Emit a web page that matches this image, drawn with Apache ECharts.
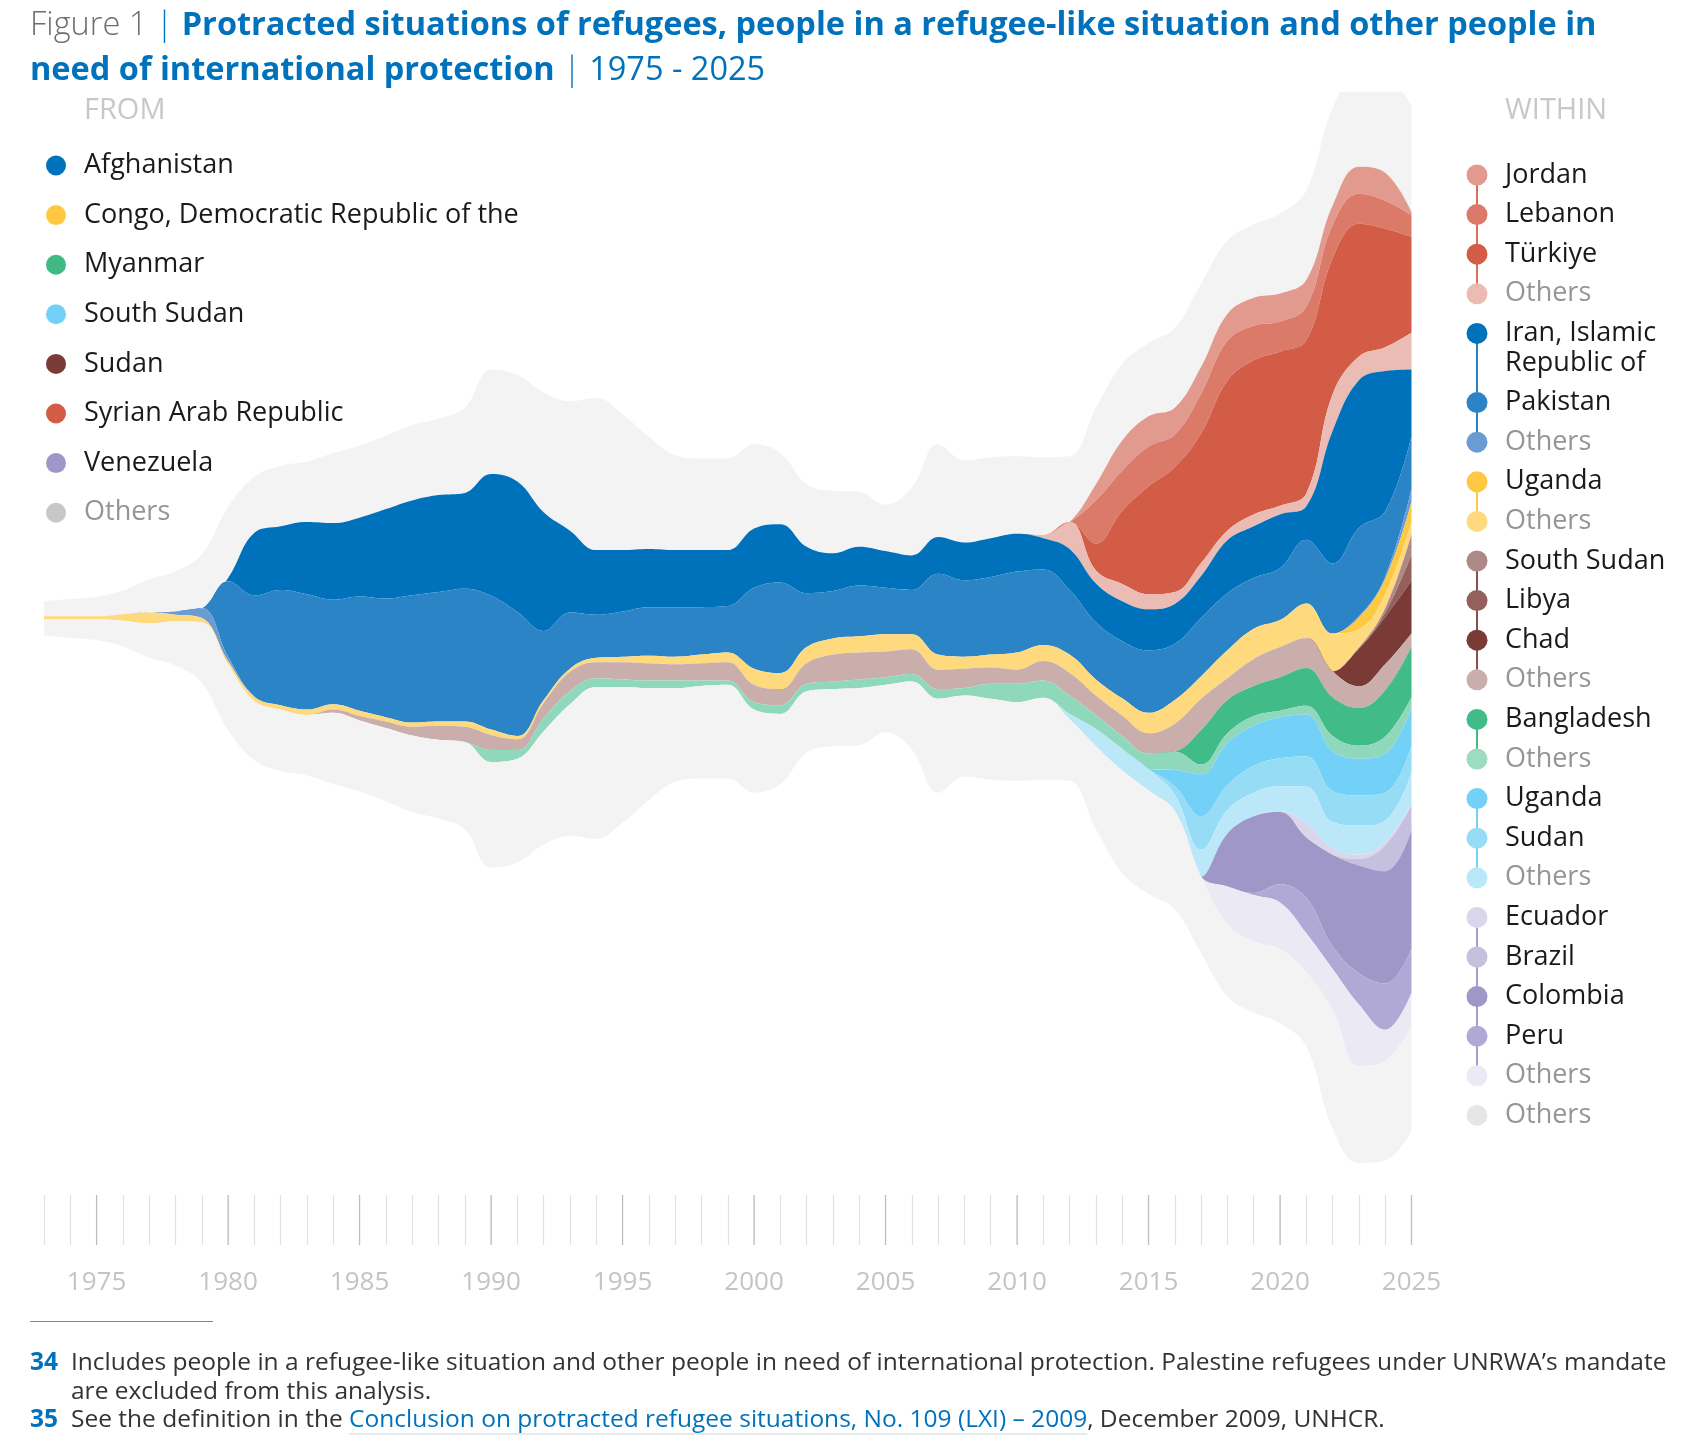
<!DOCTYPE html>
<html>
<head>
<meta charset="UTF-8">
<title>Protracted situations 1975 - 2025</title>
<script src="https://cdn.jsdelivr.net/npm/echarts@6/dist/echarts.min.js"></script>
<style>
  html, body { margin: 0; padding: 0; background: #fff; }
  #main { width: 1696px; height: 1444px; }
</style>
</head>
<body>
<div id="main"></div>
<script>
// years on the axis
var years = [1973, 1974, 1975, 1976, 1977, 1978, 1979, 1980, 1981, 1982,
  1983, 1984, 1985, 1986, 1987, 1988, 1989, 1990, 1991, 1992,
  1993, 1994, 1995, 1996, 1997, 1998, 1999, 2000, 2001, 2002,
  2003, 2004, 2005, 2006, 2007, 2008, 2009, 2010, 2011, 2012,
  2013, 2014, 2015, 2016, 2017, 2018, 2019, 2020, 2021, 2022,
  2023, 2024, 2025];
var tickLabels = [1975, 1980, 1985, 1990, 1995, 2000, 2005, 2010, 2015, 2020, 2025];

// band thickness per year (relative scale)
var greyTop = [14,16,18,22,31,37,50,66,52,56, 56,65,67,68,70,71,79,97,99,111, 120,141,126,104,88,85,85,78,66,58, 58,51,43,63,86,76,75,72,72,61, 71,71,68,74,77,68,68,74,83,90, 86,89,99];
var jordan = [0,0,0,0,0,0,0,0,0,0, 0,0,0,0,0,0,0,0,0,0, 0,0,0,0,0,0,0,0,0,0, 0,0,0,0,0,0,0,0,0,0, 15,28,28,25,25,25,26,26,25,18, 25,26,3];
var lebanon = [0,0,0,0,0,0,0,0,0,0, 0,0,0,0,0,0,0,0,0,0, 0,0,0,0,0,0,0,0,0,0, 0,0,0,0,0,0,0,0,0,0, 40,37,37,30,37,37,32,28,31,31, 28,26,20];
var turkiye = [0,0,0,0,0,0,0,0,0,0, 0,0,0,0,0,0,0,0,0,0, 0,0,0,0,0,0,0,0,0,0, 0,0,0,0,0,0,0,0,0,0, 25,68,100,116,120,139,143,143,142,126, 123,110,89];
var syriaOthers = [0,0,0,0,0,0,0,0,0,0, 0,0,0,0,0,0,0,0,0,0, 0,0,0,0,0,0,0,0,0,0, 0,0,0,0,0,0,0,0,3,25, 12,16,14,11,12,9,11,8,12,34, 22,22,34];
var iran = [0,0,0,0,0,0,0,3,58,59, 67,71,73,83,88,90,89,113,121,110, 76,60,57,54,53,53,52,55,54,43, 35,36,34,32,34,35,36,35,29,38, 36,37,38,37,39,49,48,50,31,123, 137,130,62];
var pakistan = [0,0,0,0,0,0,0,70,94,107, 107,97,106,110,118,120,123,124,115,64, 52,40,42,45,46,44,43,75,84,50, 44,47,43,41,75,71,72,75,70,60, 53,53,58,52,54,53,47,48,59,65, 82,61,49];
var afgOthers = [0,0,0,0,0,3,9,4,0,0, 0,0,0,0,0,0,0,0,0,0, 0,0,0,0,0,0,0,0,0,0, 0,0,0,0,0,0,0,0,0,0, 0,0,0,0,0,0,0,0,0,0, 1,2,12];
var congoUganda = [0,0,0,0,0,0,0,0,0,0, 0,0,0,0,0,0,0,0,0,0, 0,0,0,0,0,0,0,0,0,0, 0,0,0,0,0,0,0,0,0,0, 0,0,0,0,0,0,0,0,0,0, 11,14,18];
var congoOthers = [3,3,3,6,10,6,4,3,4,4, 5,5,5,4,4,4,5,5,3,3, 3,4,5,7,7,8,9,15,15,15, 15,15,16,14,14,11,12,16,15,17, 15,16,19,22,21,26,28,25,32,35, 17,13,12];
var southSudanHost = [0,0,0,0,0,0,0,0,0,0, 0,0,0,0,0,0,0,0,0,0, 0,0,0,0,0,0,0,0,0,0, 0,0,0,0,0,0,0,0,0,0, 0,0,0,0,0,0,0,0,0,0, 1,4,19];
var libya = [0,0,0,0,0,0,0,0,0,0, 0,0,0,0,0,0,0,0,0,0, 0,0,0,0,0,0,0,0,0,0, 0,0,0,0,0,0,0,0,0,0, 0,0,0,0,0,0,0,0,0,0, 0,4,24];
var chad = [0,0,0,0,0,0,0,0,0,0, 0,0,0,0,0,0,0,0,0,0, 0,0,0,0,0,0,0,0,0,0, 0,0,0,0,0,0,0,0,0,0, 0,0,0,0,0,0,0,0,0,0, 35,44,49];
var sudanOthers = [0,0,0,0,0,0,0,0,0,0, 0,3,4,6,8,13,14,14,10,14, 18,15,16,16,15,16,17,16,15,19, 25,25,24,23,18,18,15,13,18,21, 18,19,19,26,29,20,25,28,28,24, 20,24,12];
var bangladesh = [0,0,0,0,0,0,0,0,0,0, 0,0,0,0,0,0,0,0,0,0, 0,0,0,0,0,0,0,0,0,0, 0,0,0,0,0,0,0,0,0,0, 0,0,0,0,32,31,28,31,35,36, 35,43,47];
var myanmarOthers = [0,0,0,0,0,0,0,0,0,0, 0,0,0,0,0,0,0,11,8,12, 12,8,7,7,7,5,4,7,8,7, 7,8,7,7,9,7,14,17,16,17, 13,12,14,17,9,9,9,6,8,14, 12,16,10];
var ssUganda = [0,0,0,0,0,0,0,0,0,0, 0,0,0,0,0,0,0,0,0,0, 0,0,0,0,0,0,0,0,0,0, 0,0,0,0,0,0,0,0,0,0, 0,0,0,15,39,39,37,38,39,37, 34,36,35];
var ssSudan = [0,0,0,0,0,0,0,0,0,0, 0,0,0,0,0,0,0,0,0,0, 0,0,0,0,0,0,0,0,0,0, 0,0,0,0,0,0,0,0,0,0, 0,0,0,8,31,23,25,26,28,29, 28,26,25];
var ssOthers = [0,0,0,0,0,0,0,0,0,0, 0,0,0,0,0,0,0,0,0,0, 0,0,0,0,0,0,0,0,0,0, 0,0,0,0,0,0,0,0,0,5, 16,20,20,15,25,22,22,23,34,24, 27,20,29];
var ecuador = [0,0,0,0,0,0,0,0,0,0, 0,0,0,0,0,0,0,0,0,0, 0,0,0,0,0,0,0,0,0,0, 0,0,0,0,0,0,0,0,0,0, 0,0,0,0,0,0,0,1,13,6, 4,3,1];
var brazil = [0,0,0,0,0,0,0,0,0,0, 0,0,0,0,0,0,0,0,0,0, 0,0,0,0,0,0,0,0,0,0, 0,0,0,0,0,0,0,0,0,0, 0,0,0,0,0,0,0,0,0,0, 6,24,23];
var colombia = [0,0,0,0,0,0,0,0,0,0, 0,0,0,0,0,0,0,0,0,0, 0,0,0,0,0,0,0,0,0,0, 0,0,0,0,0,0,0,0,0,0, 0,0,0,0,0,49,71,67,56,85, 100,104,110];
var peru = [0,0,0,0,0,0,0,0,0,0, 0,0,0,0,0,0,0,0,0,0, 0,0,0,0,0,0,0,0,0,0, 0,0,0,0,0,0,0,0,0,0, 0,0,0,0,0,0,2,17,33,21, 29,43,41];
var venOthers = [0,0,0,0,0,0,0,0,0,0, 0,0,0,0,0,0,0,0,0,0, 0,0,0,0,0,0,0,0,0,0, 0,0,0,0,0,0,0,0,0,0, 0,0,0,0,0,35,43,43,36,38, 57,29,31];
var greyBottom = [15,17,19,24,32,41,56,61,55,57, 56,66,66,68,71,73,81,98,96,105, 122,141,126,104,87,86,87,77,65,57, 53,53,44,63,87,75,75,73,76,57, 77,95,96,91,71,67,66,69,69,110, 90,92,98];

// stacking order, top to bottom
var layers = [
  ['Others (top)', greyTop, '#f3f3f3'],
  ['Jordan', jordan, '#e39a8e'],
  ['Lebanon', lebanon, '#dc7a6a'],
  ['Türkiye', turkiye, '#d25c46'],
  ['Others (Syrian Arab Republic)', syriaOthers, '#ebbcb4'],
  ['Iran, Islamic Republic of', iran, '#0072bc'],
  ['Pakistan', pakistan, '#2b84c6'],
  ['Others (Afghanistan)', afgOthers, '#6a9bd3'],
  ['Uganda (Congo)', congoUganda, '#ffc843'],
  ['Others (Congo)', congoOthers, '#ffd97d'],
  ['South Sudan', southSudanHost, '#ad8a86'],
  ['Libya', libya, '#93605b'],
  ['Chad', chad, '#7a3b37'],
  ['Others (Sudan)', sudanOthers, '#caaeac'],
  ['Bangladesh', bangladesh, '#41bb87'],
  ['Others (Myanmar)', myanmarOthers, '#90d8bb'],
  ['Uganda (South Sudan)', ssUganda, '#73d0f7'],
  ['Sudan', ssSudan, '#97dcf5'],
  ['Others (South Sudan)', ssOthers, '#bbe8f9'],
  ['Ecuador', ecuador, '#dad6eb'],
  ['Brazil', brazil, '#c6bfde'],
  ['Colombia', colombia, '#a097c9'],
  ['Peru', peru, '#b1a9d5'],
  ['Others (Venezuela)', venOthers, '#ebe9f4'],
  ['Others (bottom)', greyBottom, '#f3f3f3']
];

var riverData = [];
layers.forEach(function (l) {
  years.forEach(function (y, i) {
    riverData.push([y, l[1][i], l[0]]);
  });
});

var fromItems = [
  ['Afghanistan', '#0072bc'],
  ['Congo, Democratic Republic of the', '#ffc843'],
  ['Myanmar', '#3fba85'],
  ['South Sudan', '#73d0f7'],
  ['Sudan', '#7a3b37'],
  ['Syrian Arab Republic', '#d25c46'],
  ['Venezuela', '#a097c9'],
  ['Others', '#c8c8c8']
];

var withinGroups = [
  { line: '#d8705c', items: [['Jordan', '#e39a8e'], ['Lebanon', '#dc7a6a'], ['Türkiye', '#d25c46'], ['Others', '#ebbcb4']] },
  { line: '#2b84c6', items: [['Iran, Islamic\nRepublic of', '#0072bc'], ['Pakistan', '#2b84c6'], ['Others', '#6a9bd3']] },
  { line: '#ffc843', items: [['Uganda', '#ffc843'], ['Others', '#ffd97d']] },
  { line: '#8a4f4a', items: [['South Sudan', '#ad8a86'], ['Libya', '#93605b'], ['Chad', '#7a3b37'], ['Others', '#caaeac']] },
  { line: '#41bb87', items: [['Bangladesh', '#41bb87'], ['Others', '#9ddcc0']] },
  { line: '#73d0f7', items: [['Uganda', '#73d0f7'], ['Sudan', '#97dcf5'], ['Others', '#bbe8f9']] },
  { line: '#a69ecf', items: [['Ecuador', '#dad6eb'], ['Brazil', '#c6bfde'], ['Colombia', '#a097c9'], ['Peru', '#b1a9d5'], ['Others', '#ebe9f4']] },
  { line: null, items: [['Others', '#e6e6e6']] }
];

var FONT = '"Open Sans", "Noto Sans", sans-serif';
var gfx = [];

// title
gfx.push({
  type: 'text', x: 30, y: 3, z: 10,
  style: {
    text: '{fig|Figure 1 }{bar|| }{b|Protracted situations of refugees, people in a refugee-like situation and other people in}\n' +
          '{b|need of international protection}{bar| | }{r|1975 - 2025}',
    verticalAlign: 'top',
    rich: {
      fig: { fontFamily: FONT, fontSize: 32.5, fontWeight: 300, fill: '#6d6e71', lineHeight: 45 },
      bar: { fontFamily: FONT, fontSize: 32.5, fontWeight: 300, fill: '#0072bc', lineHeight: 45 },
      b: { fontFamily: FONT, fontSize: 32.5, fontWeight: 'bold', fill: '#0072bc', lineHeight: 45 },
      r: { fontFamily: FONT, fontSize: 32.5, fontWeight: 'normal', fill: '#0072bc', lineHeight: 45 }
    }
  }
});

// hides the part of the stream that runs above the plot top
gfx.push({ type: 'rect', z: 100, shape: { x: 1280, y: 40, width: 150, height: 51.7 }, style: { fill: '#fff' } });

gfx.push({ type: 'text', x: 84, y: 111, style: { text: 'FROM', fontFamily: FONT, fontSize: 29, fill: '#c8c8c8', verticalAlign: 'middle' } });
gfx.push({ type: 'text', x: 1505, y: 111, style: { text: 'WITHIN', fontFamily: FONT, fontSize: 29, fill: '#c8c8c8', verticalAlign: 'middle' } });

fromItems.forEach(function (it, i) {
  var y = 165.5 + 49.6 * i;
  gfx.push({ type: 'circle', shape: { cx: 56, cy: y, r: 10 }, style: { fill: it[1] } });
  gfx.push({ type: 'text', x: 84, y: y, style: {
    text: it[0], fontFamily: FONT, fontSize: 27, verticalAlign: 'middle',
    fill: it[0] === 'Others' ? '#939598' : '#1a1a1a' } });
});

var yRow = 175;
withinGroups.forEach(function (g) {
  var yStart = yRow, yEnd = yRow, marks = [];
  g.items.forEach(function (it) {
    var twoLines = it[0].indexOf('\n') >= 0;
    yEnd = yRow;
    marks.push({ type: 'circle', z: 2, shape: { cx: 1477, cy: yRow, r: 10.5 }, style: { fill: it[1] } });
    marks.push({ type: 'text', z: 2, x: 1505, y: twoLines ? yRow - 15 : yRow, style: {
      text: it[0], fontFamily: FONT, fontSize: 27, lineHeight: 30,
      verticalAlign: twoLines ? 'top' : 'middle',
      fill: it[0] === 'Others' ? '#939598' : '#1a1a1a' } });
    yRow += twoLines ? 69.2 : 39.6;
  });
  if (g.line) {
    gfx.push({ type: 'line', z: 1, shape: { x1: 1477, y1: yStart, x2: 1477, y2: yEnd }, style: { stroke: g.line, lineWidth: 2 } });
  }
  gfx = gfx.concat(marks);
});

// footnotes
var FN = 24.5;
var measure = document.createElement('canvas').getContext('2d');
measure.font = FN + 'px "Open Sans"';
var pre35 = 'See the definition in the ';
var link35 = 'Conclusion on protracted refugee situations, No. 109 (LXI) \u2013 2009';
var post35 = ', December 2009, UNHCR.';
var wPre = measure.measureText(pre35).width;
var wLink = measure.measureText(link35).width;

gfx.push({ type: 'line', shape: { x1: 30, y1: 1321.5, x2: 213, y2: 1321.5 }, style: { stroke: '#4b94d6', lineWidth: 1 } });
gfx.push({ type: 'text', x: 30, y: 1363, style: { text: '34', fontFamily: FONT, fontSize: FN, fontWeight: 'bold', fill: '#0072bc', verticalAlign: 'middle' } });
gfx.push({ type: 'text', x: 71, y: 1363, style: { text: 'Includes people in a refugee-like situation and other people in need of international protection. Palestine refugees under UNRWA\u2019s mandate', fontFamily: FONT, fontSize: FN, fill: '#333', verticalAlign: 'middle' } });
gfx.push({ type: 'text', x: 71, y: 1392, style: { text: 'are excluded from this analysis.', fontFamily: FONT, fontSize: FN, fill: '#333', verticalAlign: 'middle' } });
gfx.push({ type: 'text', x: 30, y: 1420, style: { text: '35', fontFamily: FONT, fontSize: FN, fontWeight: 'bold', fill: '#0072bc', verticalAlign: 'middle' } });
gfx.push({ type: 'text', x: 71, y: 1420, style: { text: pre35, fontFamily: FONT, fontSize: FN, fill: '#333', verticalAlign: 'middle' } });
gfx.push({ type: 'text', x: 71 + wPre, y: 1420, style: { text: link35, fontFamily: FONT, fontSize: FN, fill: '#0072bc', verticalAlign: 'middle' } });
gfx.push({ type: 'line', shape: { x1: 71 + wPre, y1: 1434, x2: 71 + wPre + wLink, y2: 1434 }, style: { stroke: '#c9d3de', lineWidth: 1 } });
gfx.push({ type: 'text', x: 71 + wPre + wLink, y: 1420, style: { text: post35, fontFamily: FONT, fontSize: FN, fill: '#333', verticalAlign: 'middle' } });

var chart = echarts.init(document.getElementById('main'));

var option = {
  backgroundColor: '#fff',
  animation: false,
  tooltip: { show: false },
  color: layers.map(function (l) { return l[2]; }),
  singleAxis: {
    type: 'value', left: 44, width: 1367.5, top: 74, height: 1121,
    min: 1973, max: 2025, interval: 1,
    axisLine: { show: false },
    axisTick: { show: true, length: 50, lineStyle: { color: '#e2e2e2', width: 1.2 } },
    axisLabel: {
      show: true, margin: 75, fontFamily: FONT, fontSize: 26, color: '#c4c4c4',
      formatter: function (v) { return v % 5 === 0 ? String(v) : ''; }
    },
    splitLine: { show: false },
    axisPointer: { show: false }
  },
  series: [{
    type: 'themeRiver',
    boundaryGap: [0, 32],
    label: { show: false },
    emphasis: { disabled: true },
    itemStyle: { borderWidth: 0 },
    data: riverData
  }],
  graphic: { elements: gfx }
};

chart.setOption(option);

// darker ticks every five years, placed through the axis scale
tickLabels.forEach(function (yr) {
  var p = chart.convertToPixel({ singleAxisIndex: 0 }, yr);
  var x = Array.isArray(p) ? p[0] : p;
  gfx.push({ type: 'line', z: 5, shape: { x1: x, y1: 1195, x2: x, y2: 1245 }, style: { stroke: '#bdbdbd', lineWidth: 1.2 } });
});
chart.setOption({ graphic: { elements: gfx } });
</script>
</body>
</html>
